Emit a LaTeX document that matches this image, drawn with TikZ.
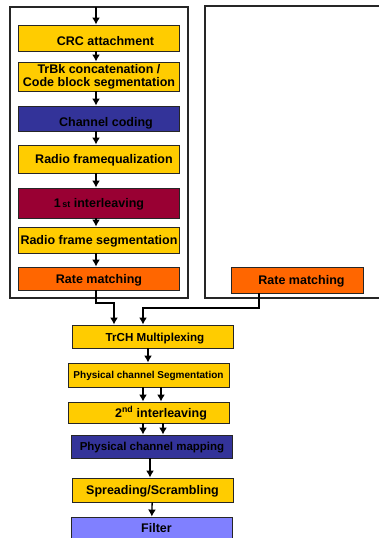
\documentclass[tikz,border=0pt]{standalone}
\usepackage{fontspec}
\setmainfont{Liberation Sans}
\usetikzlibrary{arrows.meta}
\definecolor{gold}{HTML}{FFCC00}
\definecolor{navy}{HTML}{333399}
\definecolor{wine}{HTML}{990033}
\definecolor{rmorange}{HTML}{FF6600}
\definecolor{lilac}{HTML}{8080FF}
\tikzstyle{blk}=[draw=black!85,line width=0.9pt,minimum width=161pt,inner sep=0pt,align=center,text height=9pt,text depth=0pt,font=\bfseries\fontsize{12.5}{13}\selectfont]
\tikzstyle{low}=[text height=15pt]
\tikzstyle{flow}=[line width=1.3pt,-{Latex[length=7pt,width=8pt]}]
\tikzstyle{frame}=[line width=1.1pt,black!85]

\begin{document}
\begin{tikzpicture}[x=1pt,y=-1pt]
\useasboundingbox (0,0) rectangle (378,538);
% transport channel chain, left
\draw[frame] (10,7) rectangle (188,298);
\coordinate (top) at (96,7);
\node[blk,low,fill=gold,minimum height=26pt] (crc) at (99,38) {\hspace*{13pt}CRC attachment};
\node[blk,fill=gold,minimum height=29pt,text height=,text depth=] (trbk) at (99,76.5) {TrBk concatenation /\\Code block segmentation};
\node[blk,low,fill=navy,minimum height=25pt] (cod) at (99,118.5) {\hspace*{14pt}Channel coding};
\node[blk,fill=gold,minimum height=28pt] (rfeq) at (99,159) {\hspace*{10pt}Radio framequalization};
\node[blk,fill=wine,minimum height=30pt] (il1) at (99,203) {1{\fontsize{9}{9}\selectfont\,st} interleaving};
\node[blk,fill=gold,minimum height=26pt] (rfseg) at (99,240) {Radio frame segmentation};
\node[blk,fill=rmorange,minimum height=23pt] (rm1) at (99,278.5) {Rate matching};
\draw[flow] (top) -- (crc.north -| top);
\foreach \a/\b in {crc/trbk,trbk/cod,cod/rfeq,rfeq/il1,il1/rfseg,rfseg/rm1}
  \draw[flow] (\a.south -| top) -- (\b.north -| top);
% transport channel chain, right
\draw[frame] (380,6) -- (205,6) -- (205,298) -- (380,298);
\node[blk,fill=rmorange,minimum width=132pt,minimum height=26pt] (rm2) at (297,280) {\hspace*{9pt}Rate matching};
\coordinate (r2) at (259,293);
% physical channel chain
\node[blk,fill=gold,minimum height=23pt,font=\bfseries\fontsize{11.6}{12}\selectfont] (mux) at (152.5,336.5) {\hspace*{5pt}TrCH Multiplexing};
\node[blk,fill=gold,minimum height=24pt,text height=7.2pt,font=\bfseries\fontsize{10}{11}\selectfont] (pseg) at (148.5,375) {Physical channel Segmentation};
\node[blk,fill=gold,minimum height=21pt] (il2) at (149,412.5) {\hspace*{24pt}2\textsuperscript{nd} interleaving};
\node[blk,fill=navy,minimum height=23pt,text height=8.3pt,font=\bfseries\fontsize{11.5}{12}\selectfont] (pmap) at (152,446.5) {Physical channel mapping};
\node[blk,fill=gold,minimum height=24pt] (spr) at (152.5,490) {Spreading/Scrambling};
\node[blk,fill=lilac,minimum height=22pt] (filt) at (151.5,528) {\hspace*{10pt}Filter};
\coordinate (j1) at (114,303);
\coordinate (j2) at (143,308);
\draw[flow] (rm1.south -| top) |- (j1) -- (j1 |- mux.north);
\draw[flow] (r2) |- (j2) -- (j2 |- mux.north);
\draw[flow] ([xshift=-4.5pt]mux.south) -- ([xshift=-4.5pt]mux.south |- pseg.north);
\draw[flow] ([xshift=-5.5pt]pseg.south) -- ([xshift=-5.5pt]pseg.south |- il2.north);
\draw[flow] ([xshift=12.5pt]pseg.south) -- ([xshift=12.5pt]pseg.south |- il2.north);
\draw[flow] ([xshift=-6pt]il2.south) -- ([xshift=-6pt]il2.south |- pmap.north);
\draw[flow] ([xshift=14pt]il2.south) -- ([xshift=14pt]il2.south |- pmap.north);
\draw[flow] ([xshift=-2pt]pmap.south) -- ([xshift=-2pt]pmap.south |- spr.north);
\draw[flow] (spr) -- (filt);
\end{tikzpicture}
\end{document}
